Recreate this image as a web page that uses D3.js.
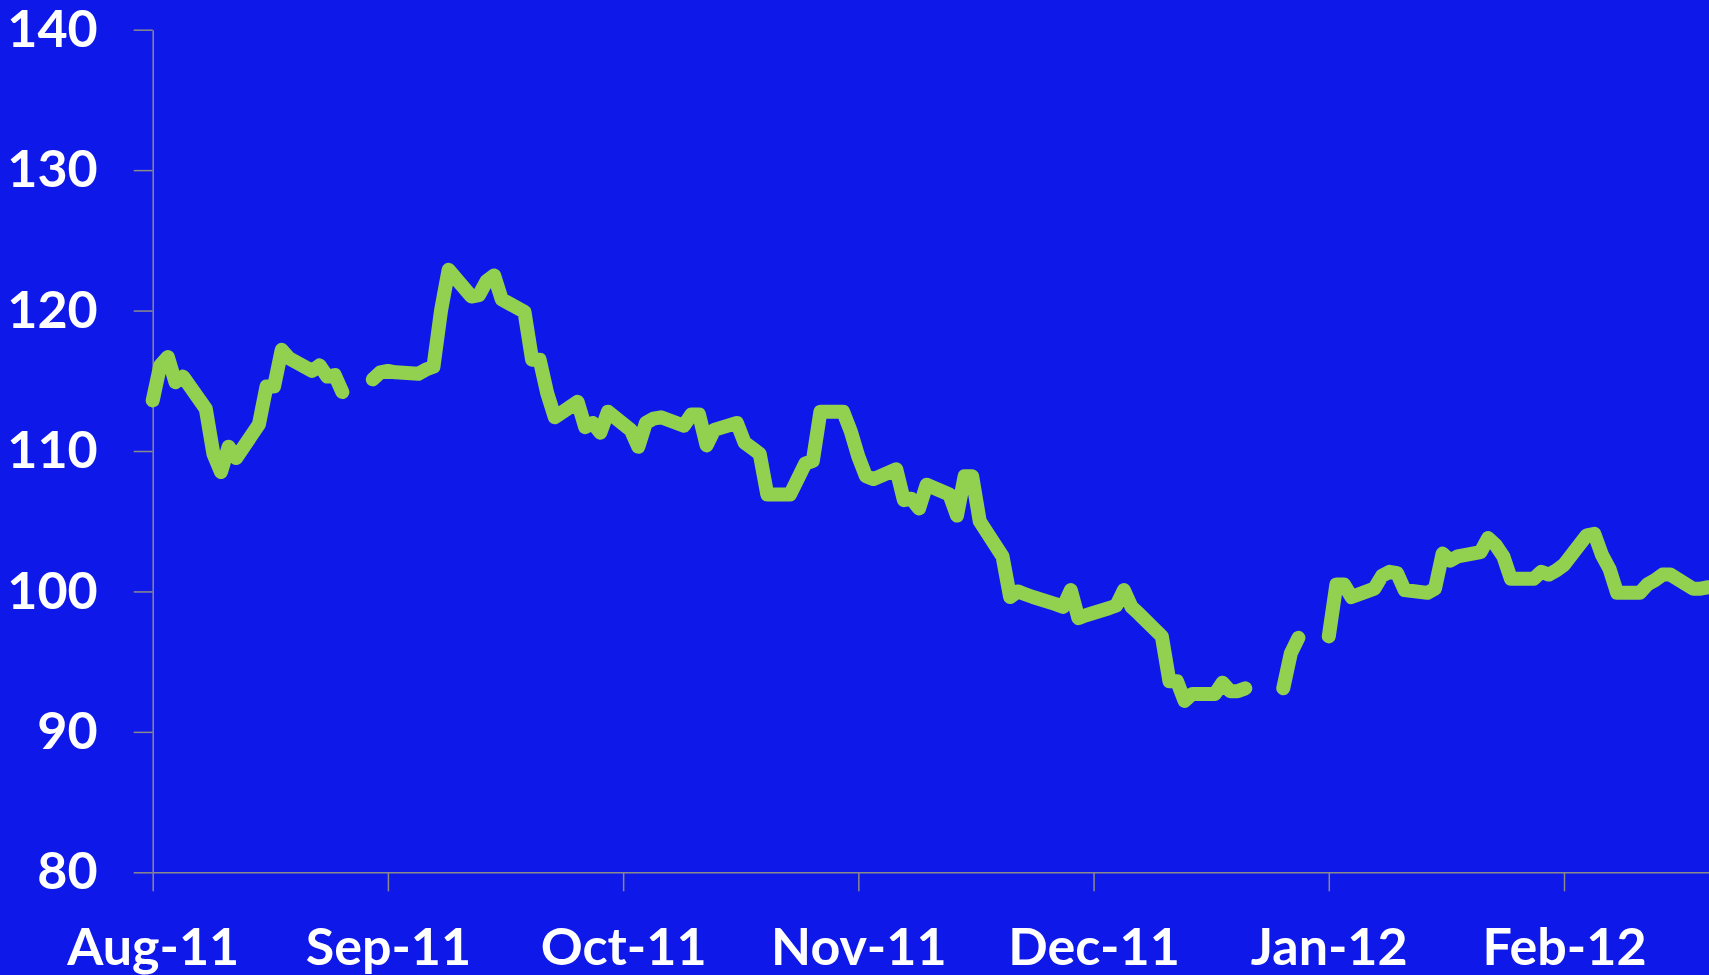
<!DOCTYPE html>
<html>
<head>
<meta charset="utf-8">
<script src="https://cdn.jsdelivr.net/npm/d3@7"></script>
<style>
  html, body { margin: 0; padding: 0; background: #0E18E8; overflow: hidden; }
  svg { display: block; }
</style>
</head>
<body>
<svg id="chart" width="1709" height="975"></svg>
<script>
// ---- data (trading days; null = market holiday, shown as a gap) ----
const dates = [
  "2011-08-01","2011-08-02","2011-08-03","2011-08-04","2011-08-05",
  "2011-08-08","2011-08-09","2011-08-10","2011-08-11","2011-08-12",
  "2011-08-15","2011-08-16","2011-08-17","2011-08-18","2011-08-19",
  "2011-08-22","2011-08-23","2011-08-24","2011-08-25","2011-08-26",
  "2011-08-29","2011-08-30","2011-08-31","2011-09-01","2011-09-02",
  "2011-09-05","2011-09-06","2011-09-07","2011-09-08","2011-09-09",
  "2011-09-12","2011-09-13","2011-09-14","2011-09-15","2011-09-16",
  "2011-09-19","2011-09-20","2011-09-21","2011-09-22","2011-09-23",
  "2011-09-26","2011-09-27","2011-09-28","2011-09-29","2011-09-30",
  "2011-10-03","2011-10-04","2011-10-05","2011-10-06","2011-10-07",
  "2011-10-10","2011-10-11","2011-10-12","2011-10-13","2011-10-14",
  "2011-10-17","2011-10-18","2011-10-19","2011-10-20","2011-10-21",
  "2011-10-24","2011-10-25","2011-10-26","2011-10-27","2011-10-28",
  "2011-10-31","2011-11-01","2011-11-02","2011-11-03","2011-11-04",
  "2011-11-07","2011-11-08","2011-11-09","2011-11-10","2011-11-11",
  "2011-11-14","2011-11-15","2011-11-16","2011-11-17","2011-11-18",
  "2011-11-21","2011-11-22","2011-11-23","2011-11-24","2011-11-25",
  "2011-11-28","2011-11-29","2011-11-30","2011-12-01","2011-12-02",
  "2011-12-05","2011-12-06","2011-12-07","2011-12-08","2011-12-09",
  "2011-12-12","2011-12-13","2011-12-14","2011-12-15","2011-12-16",
  "2011-12-19","2011-12-20","2011-12-21","2011-12-22","2011-12-23",
  "2011-12-26","2011-12-27","2011-12-28","2011-12-29","2011-12-30",
  "2012-01-02","2012-01-03","2012-01-04","2012-01-05","2012-01-06",
  "2012-01-09","2012-01-10","2012-01-11","2012-01-12","2012-01-13",
  "2012-01-16","2012-01-17","2012-01-18","2012-01-19","2012-01-20",
  "2012-01-23","2012-01-24","2012-01-25","2012-01-26","2012-01-27",
  "2012-01-30","2012-01-31","2012-02-01","2012-02-02","2012-02-03",
  "2012-02-06","2012-02-07","2012-02-08","2012-02-09","2012-02-10",
  "2012-02-13","2012-02-14","2012-02-15","2012-02-16","2012-02-17",
  "2012-02-20","2012-02-21","2012-02-22"
];

const values = [
  113.6, 116.1, 116.7, 114.9, 115.3,
  113.0, 109.8, 108.5, 110.3, 109.5,
  111.9, 114.6, 114.6, 117.2, 116.6,
  115.7, 116.1, 115.3, 115.4, 114.2,
  null,  115.1, 115.6, 115.7, 115.6,
  115.5, 115.8, 116.0, 120.0, 122.9,
  121.0, 121.1, 122.1, 122.5, 120.8,
  119.9, 116.5, 116.5, 114.1, 112.4,
  113.5, 111.7, 112.0, 111.3, 112.8,
  111.5, 110.3, 112.0, 112.3, 112.4,
  111.8, 112.6, 112.6, 110.4, 111.5,
  112.0, 110.6, 110.2, 109.8, 106.9,
  106.9, 108.0, 109.1, 109.3, 112.8,
  112.8, 111.4, 109.6, 108.2, 108.0,
  108.7, 106.5, 106.6, 105.9, 107.6,
  106.9, 105.4, 108.2, 108.2, 105.0,
  102.5, 99.6, 100.0, 99.8, 99.6,
  99.1, 98.9, 100.1, 98.1, 98.3,
  98.8, 99.0, 100.1, 98.9, 98.4,
  96.8, 93.6, 93.6, 92.2, 92.7,
  92.7, 93.5, 92.9, 92.9, 93.1,
  null, null, 93.1, 95.6, 96.7,
  null, 96.8, 100.5, 100.5, 99.6,
  100.2, 101.1, 101.4, 101.3, 100.1,
  99.9, 100.2, 102.7, 102.2, 102.5,
  102.8, 103.8, 103.3, 102.5, 100.9,
  100.9, 101.4, 101.2, 101.5, 101.9,
  104.0, 104.1, 102.6, 101.6, 99.9,
  99.9, 100.5, 100.8, 101.2, 101.2,
  100.2, 100.2, 100.3
];

const xDomain = ["2011-08-01", "2012-02-23"];
const tickDates = ["2011-08-01","2011-09-01","2011-10-02","2011-11-02","2011-12-03","2012-01-03","2012-02-03"];
const tickLabels = ["Aug-11","Sep-11","Oct-11","Nov-11","Dec-11","Jan-12","Feb-12"];
const yTicks = [80, 90, 100, 110, 120, 130, 140];

// ---- drawing ----
(function () {
  const parse = d3.utcParse("%Y-%m-%d");
  const data = dates.map((d, i) => ({ date: parse(d), v: values[i] }));

  const svg = d3.select("#chart");
  const plotLeft = 152.7, plotTop = 29.7, plotBottom = 872.3;
  const pxPerDay = (1564 - plotLeft) / 186;
  const dayCount = (parse(xDomain[1]) - parse(xDomain[0])) / 864e5;

  const x = d3.scaleUtc()
    .domain(xDomain.map(parse))
    .range([plotLeft, plotLeft + dayCount * pxPerDay]);
  const y = d3.scaleLinear().domain([80, 140]).range([plotBottom, plotTop]);

  const axisColor = "#8a8a8a";
  const font = "Lato, 'Open Sans', sans-serif";

  const tickMap = new Map(tickDates.map((d, i) => [+parse(d), tickLabels[i]]));

  const gx = svg.append("g")
    .attr("transform", `translate(0,${plotBottom})`)
    .call(d3.axisBottom(x)
      .tickValues(tickDates.map(parse))
      .tickFormat(d => tickMap.get(+d))
      .tickSize(19)
      .tickSizeOuter(0)
      .tickPadding(36.5));

  const gy = svg.append("g")
    .attr("transform", `translate(${plotLeft},0)`)
    .call(d3.axisLeft(y)
      .tickValues(yTicks)
      .tickFormat(d3.format("d"))
      .tickSize(19)
      .tickSizeOuter(0)
      .tickPadding(36));

  [gx, gy].forEach(g => {
    g.select(".domain").attr("stroke", axisColor).attr("stroke-width", 1.5);
    g.selectAll(".tick line").attr("stroke", axisColor).attr("stroke-width", 1.5);
    g.selectAll(".tick text")
      .attr("fill", "#ffffff")
      .style("font-family", font)
      .style("font-weight", "700")
      .style("font-size", "52px");
  });

  const line = d3.line()
    .defined(d => d.v !== null)
    .x(d => x(d.date))
    .y(d => y(d.v));

  svg.append("path")
    .datum(data)
    .attr("fill", "none")
    .attr("stroke", "#92D050")
    .attr("stroke-width", 14)
    .attr("stroke-linejoin", "round")
    .attr("stroke-linecap", "round")
    .attr("d", line);
})();
</script>
</body>
</html>
